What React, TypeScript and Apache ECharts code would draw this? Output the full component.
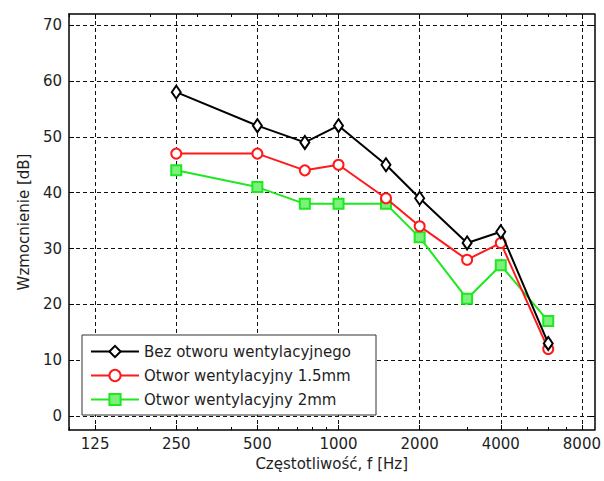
import React, { useEffect, useRef } from "react";
import * as echarts from "echarts";

const frequencies = [250, 500, 750, 1000, 1500, 2000, 3000, 4000, 6000];
const bezOtworu = [58, 52, 49, 52, 45, 39, 31, 33, 13];
const otwor15 = [47, 47, 44, 45, 39, 34, 28, 31, 12];
const otwor2 = [44, 41, 38, 38, 38, 32, 21, 27, 17];
const xTicks = [125, 250, 500, 1000, 2000, 4000, 8000];
const xMinorTicks = [100, 200, 300, 400, 500, 600, 700, 800, 900, 1000, 2000, 3000, 4000, 5000, 6000, 7000, 8000];
const yTicks = [0, 10, 20, 30, 40, 50, 60, 70];
const seriesNames = [
  "Bez otworu wentylacyjnego",
  "Otwor wentylacyjny 1.5mm",
  "Otwor wentylacyjny 2mm",
];
const xName = "Częstotliwość, f [Hz]";
const yName = "Wzmocnienie [dB]";

const FONT = "DejaVu Sans";
const TXT = "#1e1e1e";

export default function App() {
  const ref = useRef<HTMLDivElement>(null);
  useEffect(() => {
    if (!ref.current) return;
    const chart = echarts.init(ref.current, undefined, { renderer: "svg" });
    const X_MIN = 100;
    const X_MAX = 8900;
    const baseX = {
      type: "log" as const,
      logBase: 2,
      min: X_MIN,
      max: X_MAX,
      gridIndex: 0,
    };
    const pair = (arr: number[]) => frequencies.map((f, i) => [f, arr[i]]);
    const option: any = {
      animation: false,
      backgroundColor: "#ffffff",
      grid: { left: 69, top: 14, width: 526, height: 416, containLabel: false },
      xAxis: [
        {
          ...baseX,
          position: "bottom",
          name: xName,
          nameLocation: "middle",
          nameGap: 26,
          nameTextStyle: { fontFamily: FONT, fontSize: 15, color: TXT },
          axisLine: { show: true, onZero: false, lineStyle: { color: "#000", width: 1.5 } },
          axisTick: { show: true, inside: true, length: 5, customValues: xTicks, lineStyle: { color: "#000" } },
          axisLabel: {
            customValues: xTicks,
            fontFamily: FONT,
            fontSize: 15,
            color: TXT,
            margin: 6,
            formatter: (v: number) => String(Math.round(v)),
          },
          splitLine: { show: true, lineStyle: { color: "#111", type: [4, 3], width: 1 } },
          minorTick: { show: false },
        },
        {
          ...baseX,
          position: "bottom",
          axisLine: { show: false, onZero: false },
          axisTick: { show: true, inside: true, length: 3, customValues: xMinorTicks, lineStyle: { color: "#000" } },
          axisLabel: { show: false },
          splitLine: { show: false },
        },
        {
          ...baseX,
          position: "top",
          axisLine: { show: true, onZero: false, lineStyle: { color: "#000", width: 1.5 } },
          axisTick: { show: true, inside: true, length: 5, customValues: xTicks, lineStyle: { color: "#000" } },
          axisLabel: { show: false },
          splitLine: { show: false },
        },
        {
          ...baseX,
          position: "top",
          axisLine: { show: false, onZero: false },
          axisTick: { show: true, inside: true, length: 3, customValues: xMinorTicks, lineStyle: { color: "#000" } },
          axisLabel: { show: false },
          splitLine: { show: false },
        },
      ],
      yAxis: [
        {
          type: "value",
          min: -2.5,
          max: 72,
          position: "left",
          name: yName,
          nameLocation: "middle",
          nameGap: 38,
          nameRotate: 90,
          nameTextStyle: { fontFamily: FONT, fontSize: 15, color: TXT },
          axisLine: { show: true, onZero: false, lineStyle: { color: "#000", width: 1.5 } },
          axisTick: { show: true, inside: true, length: 5, customValues: yTicks, lineStyle: { color: "#000" } },
          axisLabel: { customValues: yTicks, fontFamily: FONT, fontSize: 15, color: TXT, margin: 7 },
          splitLine: { show: true, lineStyle: { color: "#111", type: [4, 3], width: 1 } },
        },
        {
          type: "value",
          min: -2.5,
          max: 72,
          position: "right",
          axisLine: { show: true, onZero: false, lineStyle: { color: "#000", width: 1.5 } },
          axisTick: { show: true, inside: true, length: 5, customValues: yTicks, lineStyle: { color: "#000" } },
          axisLabel: { show: false },
          splitLine: { show: false },
        },
      ],
      legend: {
        left: 82,
        top: 335,
        orient: "vertical",
        backgroundColor: "#ffffff",
        borderColor: "#333",
        borderWidth: 1,
        padding: [8, 8, 7, 8],
        itemGap: 7,
        itemWidth: 48,
        itemHeight: 14,
        textStyle: { fontFamily: FONT, fontSize: 15, color: TXT, width: 224, lineHeight: 17 },
        data: seriesNames,
        z: 10,
      },
      series: [
        {
          name: seriesNames[0],
          type: "line",
          data: pair(bezOtworu),
          symbol: "diamond",
          symbolSize: [9, 13],
          lineStyle: { color: "#000", width: 2 },
          itemStyle: { color: "#ffffff", borderColor: "#000", borderWidth: 2 },
          z: 4,
        },
        {
          name: seriesNames[1],
          type: "line",
          data: pair(otwor15),
          symbol: "circle",
          symbolSize: 10,
          lineStyle: { color: "#ff1a1a", width: 2 },
          itemStyle: { color: "#ffffff", borderColor: "#ff1a1a", borderWidth: 2 },
          z: 3,
        },
        {
          name: seriesNames[2],
          type: "line",
          data: pair(otwor2),
          symbol: "rect",
          symbolSize: 10,
          lineStyle: { color: "#1ee81e", width: 2 },
          itemStyle: { color: "#7cf07c", borderColor: "#1ee81e", borderWidth: 2 },
          z: 2,
        },
      ],
    };
    chart.setOption(option);
    return () => chart.dispose();
  }, []);
  return (
    <div
      ref={ref}
      style={{ position: "fixed", left: 0, top: 0, width: 604, height: 481, background: "#fff" }}
    />
  );
}
